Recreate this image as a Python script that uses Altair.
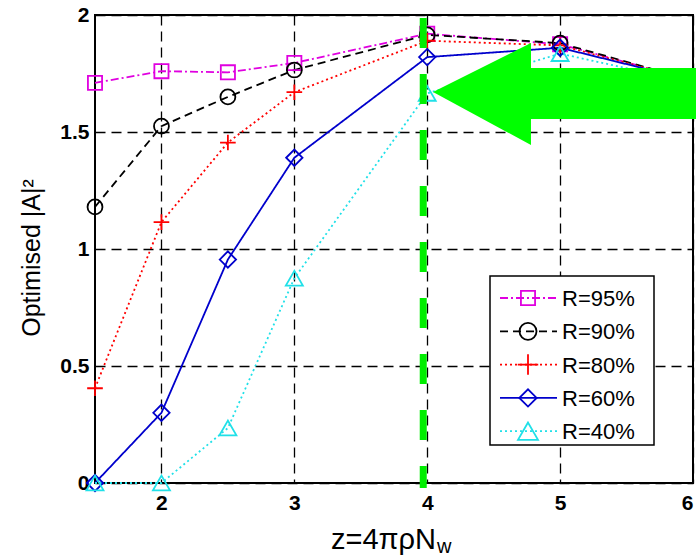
import altair as alt
import pandas as pd

# ---- data ----
x_vals = [1.5, 2, 2.5, 3, 4, 5, 6]
labels = ["R=95%", "R=90%", "R=80%", "R=60%", "R=40%"]
r95 = [1.71, 1.76, 1.755, 1.795, 1.92, 1.875, 1.72]
r90 = [1.18, 1.525, 1.65, 1.765, 1.915, 1.88, 1.72]
r80 = [0.405, 1.115, 1.455, 1.67, 1.89, 1.87, 1.72]
r60 = [0.0, 0.30, 0.955, 1.39, 1.82, 1.86, 1.72]
r40 = [0.0, 0.0, 0.235, 0.875, 1.665, 1.835, 1.71]
series = [r95, r90, r80, r60, r40]

x_ticks = [2, 3, 4, 5, 6]
y_ticks = [0, 0.5, 1, 1.5, 2]

# annotation anchors (data coordinates)
green_line_x = [3.97]
arrow_x = [5.037]
arrow_y = [1.671]

# ---- styles ----
colors = ["#e000e0", "#000000", "#ff0000", "#0000cc", "#20e0e8"]
dashes = [[8, 3, 2, 3], [8, 5], [2, 3], [1, 0], [2, 3]]
shapes = ["square", "circle", "M-1,0L1,0M0,-1L0,1", "diamond", "triangle-up"]
sizes = [200, 290, 420, 300, 400]
FONT = "Liberation Sans"

rows = []
for lab, ys in zip(labels, series):
    for xv, yv in zip(x_vals, ys):
        rows.append({"series": lab, "x": xv, "y": yv})
df = pd.DataFrame(rows)

W, H = 598, 468
xs = alt.Scale(domain=[1.5, 6], nice=False, zero=False)
yscale = alt.Scale(domain=[0, 2], nice=False, zero=False)

X = alt.X("x:Q", scale=xs, title=None,
          axis=alt.Axis(values=x_ticks, title=None, labelPadding=9, format="~g"))
Y = alt.Y("y:Q", scale=yscale, title=None,
          axis=alt.Axis(values=y_ticks, title=None, labelPadding=6, format="~g"))

color_enc = alt.Color("series:N", scale=alt.Scale(domain=labels, range=colors), legend=None)
dash_enc = alt.StrokeDash("series:N", scale=alt.Scale(domain=labels, range=dashes), legend=None)
shape_enc = alt.Shape("series:N", scale=alt.Scale(domain=labels, range=shapes), legend=None)
size_enc = alt.Size("series:N", scale=alt.Scale(domain=labels, range=sizes), legend=None)

lines = alt.Chart(df).mark_line(strokeWidth=1.8, clip=False).encode(
    x=X, y=Y, color=color_enc, strokeDash=dash_enc
)
points = alt.Chart(df).mark_point(filled=False, strokeWidth=1.8, opacity=1, clip=False).encode(
    x=X, y=Y, color=color_enc, shape=shape_enc, size=size_enc
)

green_line = alt.Chart(pd.DataFrame({"x": green_line_x})).mark_rule(
    color="#00ee00", strokeWidth=7, strokeDash=[30, 26], clip=False
).encode(x=X, y=alt.value(3), y2=alt.value(473))

arrow_path = ("M-1,0 L-0.258,-0.371 L-0.258,-0.182 L1,-0.182 L1,0.205 "
              "L-0.258,0.205 L-0.258,0.402 Z")
arrow = alt.Chart(pd.DataFrame({"x": arrow_x, "y": arrow_y})).mark_point(
    shape=arrow_path, filled=True, color="#00ff00", opacity=1, size=69696,
    strokeWidth=0, clip=False
).encode(x=X, y=Y)

# ---- manual legend ----
legend_layers = []
box = alt.Chart(pd.DataFrame({"a": [0]})).mark_rect(
    fill="white", stroke="black", strokeWidth=1.5
).encode(x=alt.value(395), x2=alt.value(559), y=alt.value(261), y2=alt.value(430))
legend_layers.append(box)
for i, lab in enumerate(labels):
    yy = 283 + i * 33.3
    one = alt.Chart(pd.DataFrame({"series": [lab]}))
    legend_layers.append(one.mark_rule(color=colors[i], strokeWidth=1.8, strokeDash=dashes[i]).encode(
        x=alt.value(405), x2=alt.value(462), y=alt.value(yy)))
    legend_layers.append(one.mark_point(filled=False, strokeWidth=1.8, opacity=1, color=colors[i],
                                        shape=shapes[i], size=sizes[i]).encode(
        x=alt.value(433), y=alt.value(yy)))
    legend_layers.append(one.mark_text(align="left", baseline="middle", font=FONT, fontSize=22,
                                       color="black").encode(
        x=alt.value(467), y=alt.value(yy + 1), text="series:N"))

# ---- axis titles ----
xt_main = alt.Chart(pd.DataFrame({"t": ["z=4\u03c0\u03c1N"]})).mark_text(
    align="right", baseline="alphabetic", font=FONT, fontSize=29, color="black"
).encode(x=alt.value(341), y=alt.value(534), text="t:N")
xt_sub = alt.Chart(pd.DataFrame({"t": ["w"]})).mark_text(
    align="left", baseline="alphabetic", font=FONT, fontSize=20, color="black"
).encode(x=alt.value(342), y=alt.value(538), text="t:N")
yt = alt.Chart(pd.DataFrame({"t": ["Optimised |A|\u00b2"]})).mark_text(
    align="center", baseline="middle", angle=270, font=FONT, fontSize=25, color="black"
).encode(x=alt.value(-63), y=alt.value(243), text="t:N")

chart = alt.layer(
    lines, points, green_line, arrow, *legend_layers, xt_main, xt_sub, yt
).properties(
    width=W, height=H,
    autosize=alt.AutoSizeParams(type="none"),
    padding={"left": 95, "top": 15, "right": 3, "bottom": 75},
).configure_view(
    stroke="black", strokeWidth=2
).configure_axis(
    domain=False, ticks=False, grid=True, gridColor="black", gridDash=[10, 6],
    gridWidth=1.3, gridOpacity=1, labelFont=FONT, labelFontSize=21,
    labelFontWeight="bold", labelColor="black"
)

chart.save("out.html", embed_options={"renderer": "svg", "actions": False})
